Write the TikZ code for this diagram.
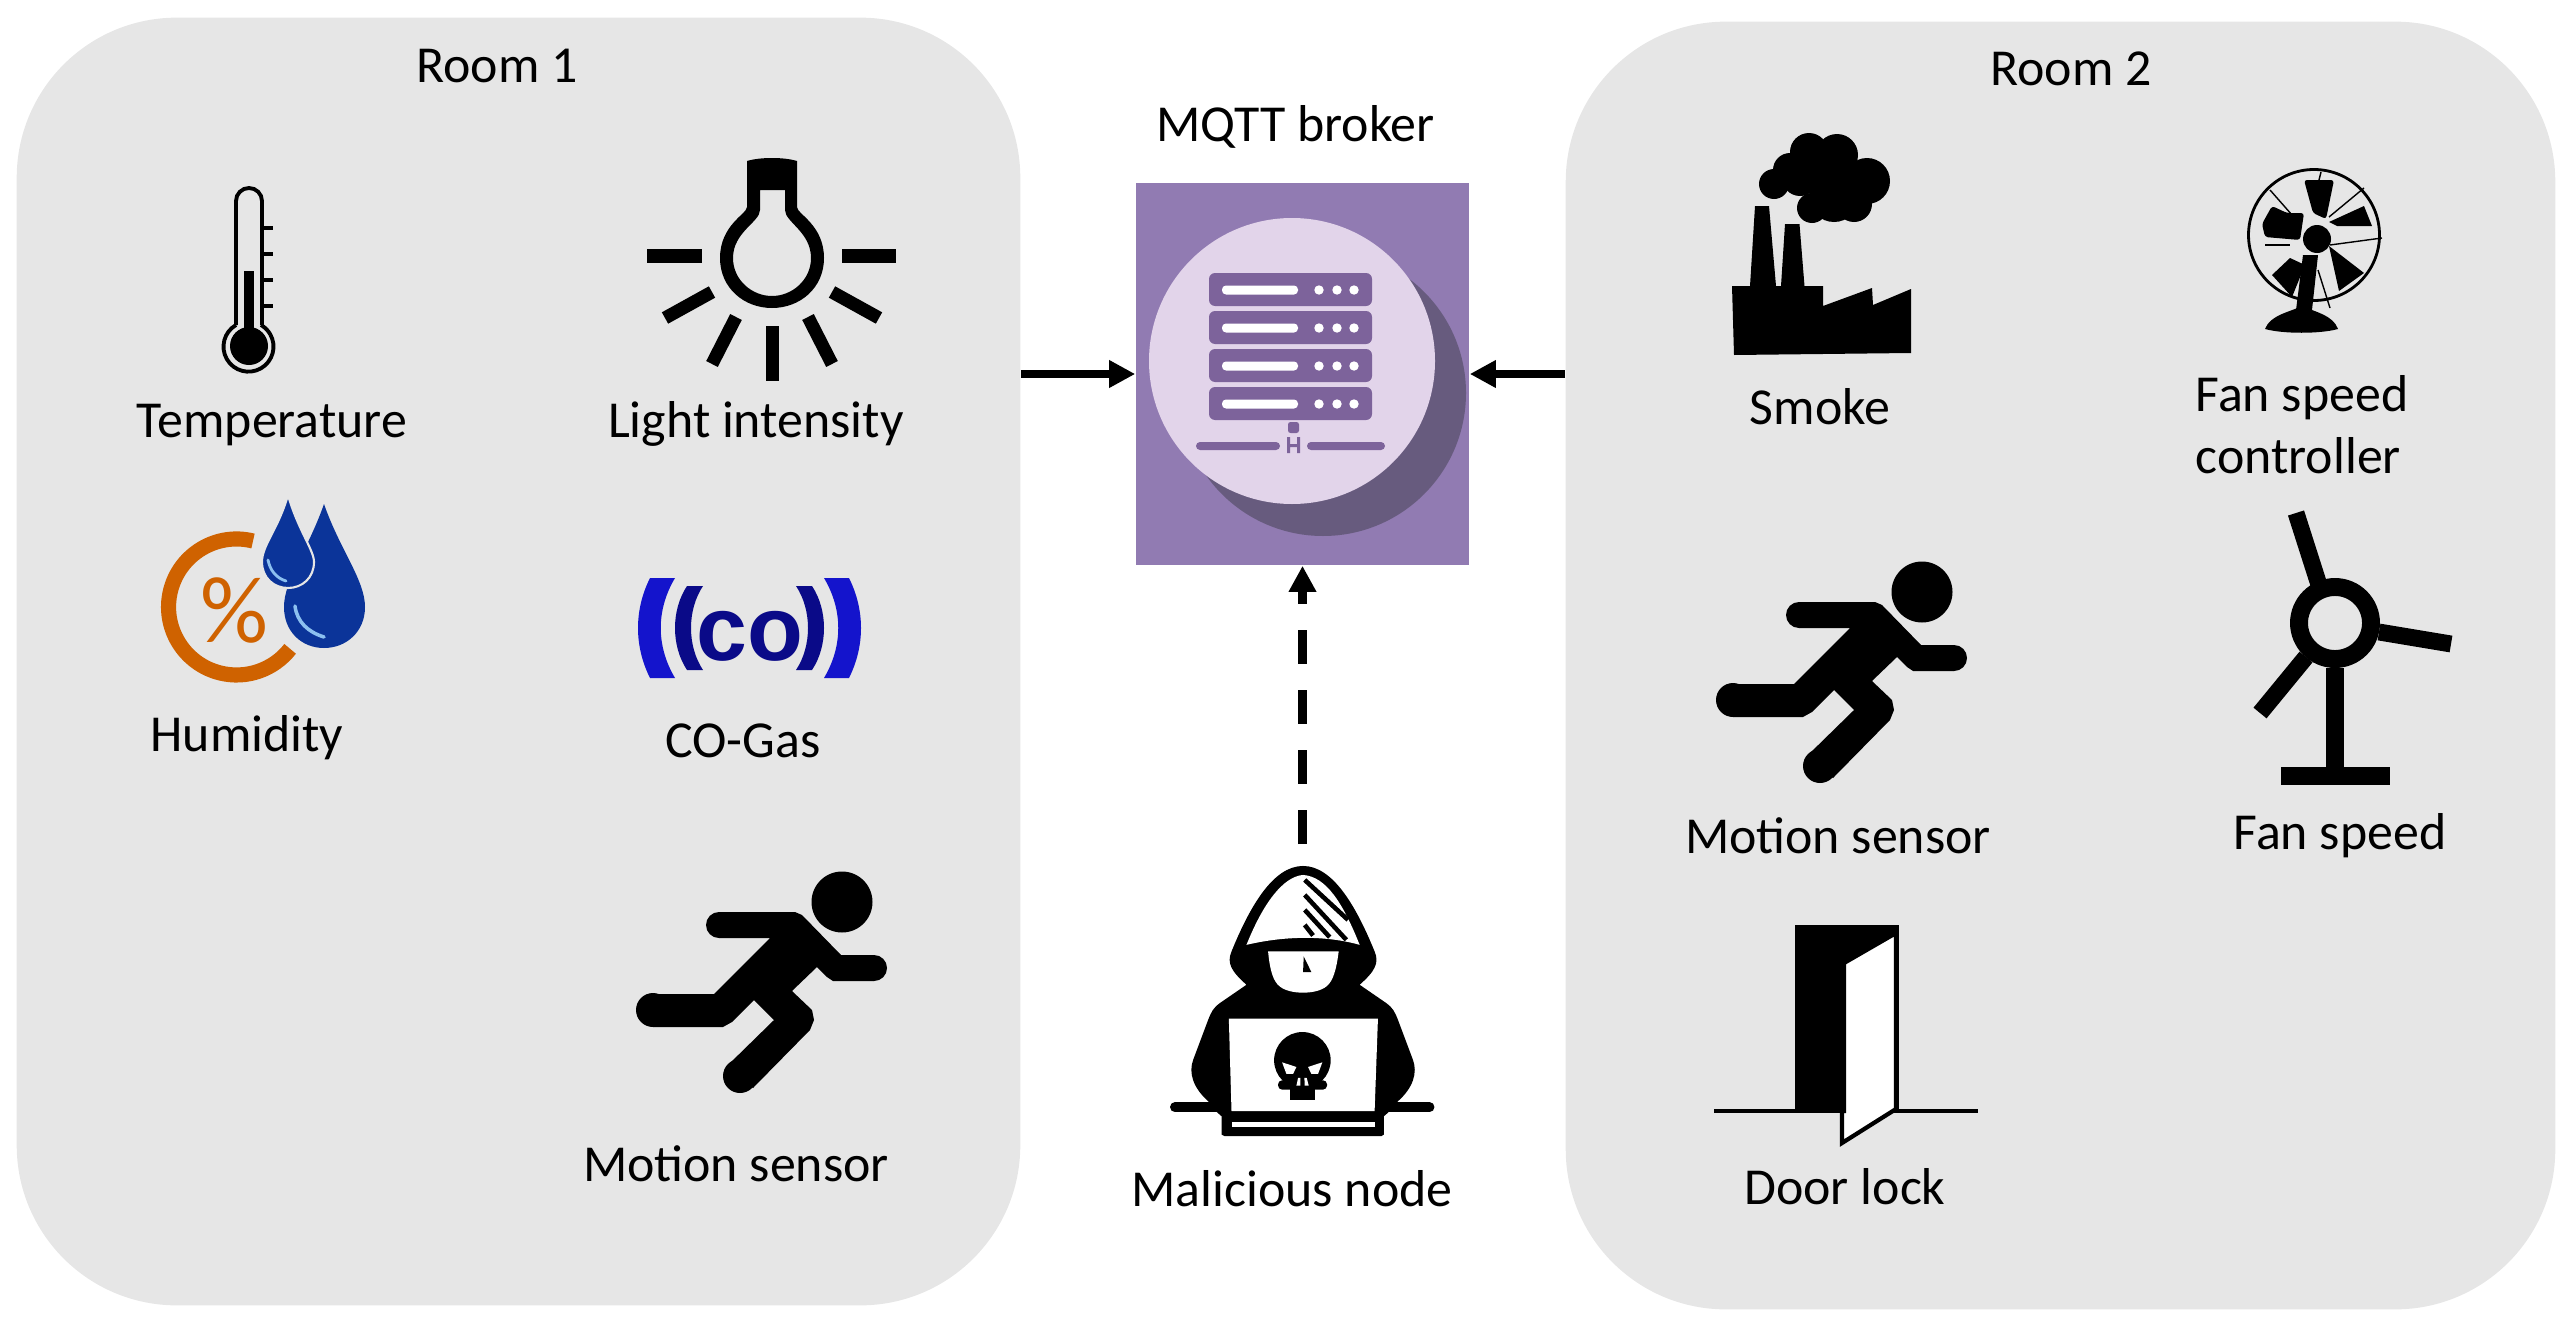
\documentclass[tikz,border=0pt]{standalone}
\usepackage{fontspec}
\setmainfont{Carlito}
\newfontfamily\heavyfont{Liberation Sans}
\usetikzlibrary{arrows.meta,positioning,calc}
\definecolor{roomgray}{HTML}{E6E6E6}
\definecolor{brokerpurple}{HTML}{917BB2}
\definecolor{shadowpurple}{HTML}{675B7E}
\definecolor{discpurple}{HTML}{E2D4EA}
\definecolor{rackpurple}{HTML}{7D639B}
\definecolor{humorange}{HTML}{CF6200}
\definecolor{dropblue}{HTML}{0B3499}
\definecolor{glintblue}{HTML}{8CC0F0}
\definecolor{cobright}{HTML}{1414CC}
\definecolor{codark}{HTML}{0A0A88}
\tikzset{
  label/.style={font=\fontsize{14.75}{17.6}\selectfont, align=center, inner sep=0pt},
  room/.style={fill=roomgray, rounded corners=1.6cm, minimum width=#1, minimum height=12.87cm, inner sep=0pt},
  runner/.pic={
    \fill (99,52) -- (175,52) -- (182,55) -- (221,95) -- (253,95) -- (254,121) -- (213,121) -- (207,117) -- (197,107)
      -- (172,131) -- (192,150) -- (194,160) -- (190,170) -- (133,228) -- (108,205) -- (154,160) -- (134,140)
      -- (112,162) -- (103,167) -- (33,167) -- (33,134) -- (94,134) -- (150,78) -- (99,78) -- cycle;
    \fill (99,65) circle[radius=13] (254,108) circle[radius=13] (120,216) circle[radius=17] (33,150) circle[radius=17];
    \fill (222,42) circle[radius=30.5];
  }
}
\begin{document}
\begin{tikzpicture}[x=0.01cm, y=-0.01cm, >={Stealth[length=2.6mm,width=2.6mm,inset=0pt]}]
  \useasboundingbox (0,0) rectangle (2572,1327);

  % Rooms
  \node[room=10.03cm] (room1) at (518.5,661.5) {};
  \node[room=9.89cm] (room2) at (2060.5,665.5) {};
  \node[label] (room1-label) at (497,66) {Room 1};
  \node[label] (room2-label) at (2071,69) {Room 2};

  % Broker
  \node[fill=brokerpurple, minimum width=3.33cm, minimum height=3.82cm, inner sep=0pt] (broker) at (1302.5,374) {};
  \node[label, above=0.33cm of broker, xshift=-0.07cm] (broker-label) {MQTT broker};
  \fill[shadowpurple] (1323,393) circle[radius=143];
  \fill[discpurple] (1292,361) circle[radius=143];
  \foreach \y in {273,311,349,387} {
    \fill[rackpurple, rounded corners=0.6mm] (1209,\y) rectangle (1372,\y+33);
    \fill[white, rounded corners=0.4mm] (1222,\y+12.5) rectangle (1298,\y+21.5);
    \foreach \x in {1319,1337,1354} \fill[white] (\x,\y+17) circle[radius=4.7];
  }
  \fill[rackpurple, rounded corners=0.4mm] (1196,442) rectangle (1280,450);
  \fill[rackpurple, rounded corners=0.4mm] (1307,442) rectangle (1385,450);
  \fill[rackpurple, rounded corners=0.25mm] (1288,433) -- (1288,422) -- (1299,422) -- (1299,433) -- cycle;
  \fill[rackpurple] (1287,437) rectangle (1290,453) (1297,437) rectangle (1300,453) (1287,444) rectangle (1300,447);

  % Connectors
  \coordinate (room1-out) at (room1.east |- broker.west);
  \coordinate (room2-out) at (room2.west |- broker.east);
  \coordinate (attack) at (1302.5,844);
  \draw[->, line width=2.4pt] (room1-out) -- (broker.west);
  \draw[->, line width=2.4pt] (room2-out) -- (broker.east);
  \draw[->, line width=2.4pt, dash pattern=on 0.34cm off 0.26cm] (attack) -- (broker.south);

  % Temperature
  \draw[line width=1.1pt] (236,325) -- (236,201) arc[start angle=180, end angle=360, radius=13] -- (262,325);
  \draw[line width=1.1pt] (236,325) arc[start angle=240, end angle=-60, radius=25];
  \fill (249,346) circle[radius=19];
  \fill (244,271) rectangle (254,335);
  \foreach \y in {228,254,280,306} \draw[line width=0.9pt] (262,\y) -- (273,\y);
  \node[label] (temperature) at (272,425) {Temperature};

  % Light intensity
  \fill[even odd rule] (747,161) .. controls (760,157) and (784,157) .. (797,161) -- (797,207)
      .. controls (797,214) and (824,225) .. (824,258) .. controls (824,288) and (800,308) .. (772,308)
      .. controls (744,308) and (720,288) .. (720,258) .. controls (720,225) and (747,214) .. (747,207) -- cycle
    (760,190) -- (785,190) -- (785,210) .. controls (785,222) and (811,232) .. (811,258)
      .. controls (811,280) and (792,296) .. (772,296) .. controls (752,296) and (733,280) .. (733,258)
      .. controls (733,232) and (760,222) .. (760,210) -- cycle;
  \foreach \a/\b/\c/\d in {647/256/702/256, 842/256/896/256, 712/292/665/318, 832/292/879/318,
      736/317/712/364, 808/317/832/364, 772/326/772/381}
    \draw[line width=3.7pt] (\a,\b) -- (\c,\d);
  \node[label] (light) at (756,424) {Light intensity};

  % Humidity
  \draw[humorange, line width=4.3pt] (253,541) arc[start angle=-76, end angle=-322, radius=68];
  \node[text=humorange, inner sep=0pt, font=\fontsize{27}{27}\selectfont] (percent) at (234,611) {\%};
  \fill[dropblue] (324,504) .. controls (340,550) and (365,580) .. (365,607) .. controls (365,632) and (346,648) .. (324,648)
      .. controls (302,648) and (284,632) .. (284,607) .. controls (284,580) and (308,550) .. (324,504) -- cycle;
  \filldraw[dropblue, draw=roomgray, line width=0.6pt] (288,495) .. controls (298,530) and (314,550) .. (314,562)
      .. controls (314,578) and (302,588) .. (288,588) .. controls (274,588) and (262,578) .. (262,562)
      .. controls (262,545) and (278,530) .. (288,495) -- cycle;
  \draw[glintblue, line width=0.8pt, line cap=round] (268,560) .. controls (270,570) and (276,578) .. (286,581);
  \draw[glintblue, line width=1pt, line cap=round] (295,606) .. controls (297,622) and (308,632) .. (324,637);
  \node[label] (humidity) at (247,738) {Humidity};

  % CO gas
  \fill[cobright] (650,578) .. controls (634,610) and (634,646) .. (650,678) -- (675,678) .. controls (656,646) and (656,610) .. (675,578) -- cycle;
  \fill[cobright] (849,578) .. controls (865,610) and (865,646) .. (849,678) -- (824,678) .. controls (843,646) and (843,610) .. (824,578) -- cycle;
  \fill[codark] (687,586) .. controls (671,610) and (671,646) .. (687,670) -- (703,670) .. controls (687,646) and (687,610) .. (703,586) -- cycle;
  \fill[codark] (812,586) .. controls (828,610) and (828,646) .. (812,670) -- (796,670) .. controls (812,646) and (812,610) .. (796,586) -- cycle;
  \node[text=codark, inner sep=0pt, font=\heavyfont\bfseries\fontsize{26}{26}\selectfont] (co) at (750,636) {co};
  \node[label] (cogas) at (743,741) {CO-Gas};

  % Motion sensors
  \pic at (620,860) {runner};
  \pic at (1700,550) {runner};
  \node[label] (motion1) at (736,1164) {Motion sensor};
  \node[label] (motion2) at (1838,836) {Motion sensor};

  % Malicious node
  \begin{scope}[shift={(1130,840)}, x=0.00333cm, y=-0.00333cm]
    \draw[line width=2.8pt, line cap=round] (135,803) -- (900,803);
    \fill (520,78) .. controls (610,78) and (680,200) .. (735,335) .. controls (750,370) and (735,395) .. (690,435)
      -- (770,490) .. controls (790,505) and (795,515) .. (805,540) -- (850,660) .. controls (865,700) and (850,745) .. (805,785)
      -- (780,815) -- (763,830) -- (763,885) -- (755,890) -- (285,890) -- (275,885) -- (275,830) -- (258,815) -- (235,785)
      .. controls (190,745) and (175,700) .. (190,660) -- (235,540) .. controls (245,515) and (250,505) .. (270,490)
      -- (350,435) .. controls (305,395) and (290,370) .. (305,335) .. controls (360,200) and (430,78) .. (520,78) -- cycle;
    \fill[white] (350,315) .. controls (400,190) and (460,110) .. (520,105) .. controls (590,110) and (640,190) .. (690,315)
      .. controls (620,295) and (500,280) .. (350,315) -- cycle;
    \foreach \a/\b/\c/\d in {525/120/655/240, 525/165/650/300, 525/210/600/292, 525/255/550/287}
      \draw[line width=1.3pt] (\a,\b) -- (\c,\d);
    \fill[white] (415,335) -- (627,335) .. controls (620,390) and (610,425) .. (590,440) .. controls (560,465) and (480,465) .. (450,440)
      .. controls (430,425) and (420,390) .. (415,335) -- cycle;
    \fill (522,350) -- (545,397) -- (520,397) -- cycle;
    \fill[white] (297,537) -- (745,537) -- (735,815) -- (305,815) -- cycle;
    \fill[white] (305,846) rectangle (735,862);
    \fill (518,662) circle[radius=85];
    \fill[rounded corners=0.4mm] (445,722) rectangle (592,750);
    \fill (480,725) rectangle (555,780);
    \fill[white] (457,668) -- (500,682) -- (490,703) -- (470,703) -- cycle (578,668) -- (535,682) -- (545,703) -- (565,703) -- cycle;
    \fill[white] (505,715) -- (512,715) -- (512,738) -- (500,738) -- cycle (524,715) -- (531,715) -- (537,738) -- (525,738) -- cycle;
  \end{scope}
  \node[label] (malicious) at (1292,1189) {Malicious node};

  % Smoke
  \fill (1732,286) -- (1750,286) -- (1755,206) -- (1769,206) -- (1776,286) -- (1781,286) -- (1785,224) -- (1799.5,224) -- (1804.5,286)
    -- (1823,286) -- (1823,306) -- (1872,288) -- (1873,305) -- (1911,289) -- (1911,353) -- (1734,355) -- cycle;
  \foreach \x/\y/\r in {1774/184/15, 1790/170/17, 1809/152/19, 1837/155/21, 1867/181/23, 1854/204/18, 1812/208/15, 1834/197/25, 1800/178/18, 1830/175/25}
    \fill (\x,\y) circle[radius=\r];
  \node[label] (smoke) at (1820,407) {Smoke};

  % Fan speed controller
  \draw[line width=0.8pt] (2314,235) circle[radius=65.5];
  \foreach \a/\b/\c/\d in {2329/217/2364/188, 2319/180/2321/172, 2270/190/2292/215, 2265/245/2290/245, 2330/245/2382/238, 2318/270/2330/308}
    \draw[line width=0.4pt] (\a,\b) -- (\c,\d);
  \fill[rounded corners=0.3mm] (2304,180) -- (2334,180) -- (2326,219) -- (2313,213) -- cycle;
  \fill[rounded corners=0.3mm] (2272,206) -- (2287,213) -- (2304,213) -- (2300,240) -- (2265,237) -- (2262,224) -- cycle;
  \fill (2364,206) -- (2372,226) -- (2337,226) -- (2329,222) -- cycle;
  \fill (2364,273) -- (2339,291) -- (2329,246) -- cycle;
  \fill (2272,275) -- (2292,297) -- (2305,265) -- (2290,258) -- cycle;
  \fill (2317,239) circle[radius=14];
  \fill (2303,255) -- (2318,255) -- (2312,310) -- (2296,310) -- cycle;
  \fill (2265,329) .. controls (2270,315) and (2290,312) .. (2302,306) .. controls (2315,312) and (2333,315) .. (2338,329)
    .. controls (2320,334) and (2283,334) .. (2265,329) -- cycle;
  \node[label, align=left] (controller) at (2302,425) {Fan speed\\controller};

  % Fan speed
  \draw[line width=5.1pt] (2335,623) circle[radius=36];
  \foreach \a/\b/\c/\d in {2319/585/2296/513, 2379/632/2451/644, 2306/657/2260/713}
    \draw[line width=4.8pt] (\a,\b) -- (\c,\d);
  \fill (2326,668) rectangle (2344,768);
  \fill (2281,767) rectangle (2390,785);
  \node[label] (fanspeed) at (2340,836) {Fan speed};

  % Door lock
  \fill (1795,925) rectangle (1899,1111);
  \draw[line width=1.4pt] (1714,1111) -- (1978,1111);
  \filldraw[fill=white, draw=black, line width=1.2pt] (1844,963) -- (1896,933) -- (1896,1109) -- (1842,1143) -- (1842,1111) -- (1844,1111) -- cycle;
  \node[label] (doorlock) at (1845,1187) {Door lock};
\end{tikzpicture}
\end{document}
